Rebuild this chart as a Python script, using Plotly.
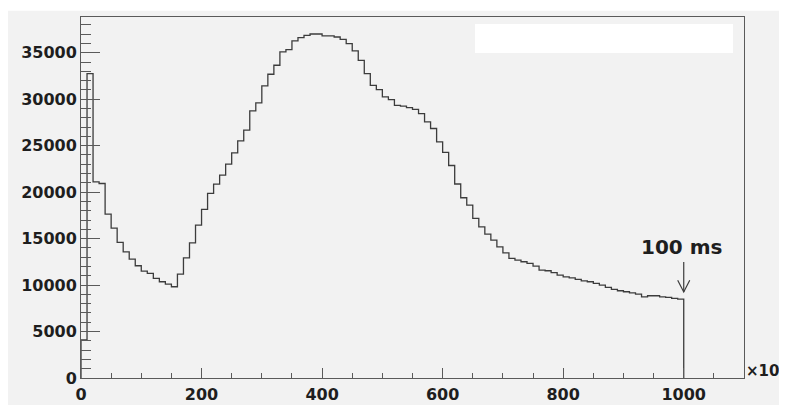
import plotly.graph_objects as go

# ---- data (x in units of 10^3, bin width 10) ----
bin_low = 0
bin_width = 10
counts = [
    4090, 32760, 21110, 20930, 17630, 16130, 14600, 13580, 12800, 12080,
    11500, 11260, 10720, 10360, 10110, 9820, 11180, 12930, 14550, 16450,
    18140, 19860, 20860, 21830, 23010, 24230, 25520, 26670, 28740, 29600,
    31430, 32690, 33660, 35090, 35340, 36270, 36630, 36880, 37020, 37020,
    36810, 36810, 36700, 36450, 35990, 35200, 34190, 32760, 31500, 31040,
    30250, 29960, 29350, 29250, 29100, 28900, 28450, 27560, 26850, 25410,
    24290, 22870, 20880, 19400, 18600, 17170, 16270, 15480, 14840, 14120,
    13470, 12870, 12690, 12510, 12330, 12040, 11610, 11540, 11330, 11080,
    10890, 10780, 10610, 10460, 10360, 10180, 10000, 9750, 9530, 9390,
    9280, 9170, 9030, 8740, 8850, 8850, 8740, 8670, 8570, 8490,
]
x_ticks = [0, 200, 400, 600, 800, 1000]
y_ticks = [0, 5000, 10000, 15000, 20000, 25000, 30000, 35000]
marker_label = "100 ms"
marker_x = 1000
marker_tip = 9260
marker_tail = 12490

edges = [bin_low + i * bin_width for i in range(len(counts) + 1)]
xs = [edges[0]] + edges
ys = [0] + counts + [0]

BG = "#f2f2f2"
AX = "#5a5a5a"
OFF = 8                      # page body margin in the browser
W, H = 779, 397
L, R, T, B = 73, 43, 9, 27
PW, PH = W - L - R, H - T - B

def px2paper_x(wx):          # window pixel -> paper
    return (wx - OFF - L) / PW

def px2paper_y(wy):
    return (H - B - (wy - OFF)) / PH

fig = go.Figure()
fig.add_trace(go.Scatter(
    x=xs, y=ys, mode="lines", line=dict(shape="hv", color="#3c3c3c", width=1.3),
    hoverinfo="skip", showlegend=False,
))

shapes = [
    # thin white strip at top
    dict(type="rect", xref="paper", yref="paper", x0=px2paper_x(0), x1=px2paper_x(800),
         y0=px2paper_y(10.7), y1=px2paper_y(OFF), fillcolor="white", line=dict(width=0), layer="below"),
    # white blotted-out legend
    dict(type="rect", xref="paper", yref="paper", x0=px2paper_x(475), x1=px2paper_x(733),
         y0=px2paper_y(53), y1=px2paper_y(24), fillcolor="white", line=dict(width=0), layer="above"),
    # arrow for marker
    dict(type="line", xref="x", yref="y", x0=marker_x, x1=marker_x, y0=marker_tail, y1=marker_tip,
         line=dict(color="#3c3c3c", width=1.2)),
    dict(type="path", xref="x", yref="y",
         path=f"M {marker_x-10},{marker_tip+1250} L {marker_x},{marker_tip} L {marker_x+10},{marker_tip+1250}",
         line=dict(color="#3c3c3c", width=1.2)),
]

annotations = [
    dict(x=marker_x - 3, y=14100, xref="x", yref="y", text=marker_label, showarrow=False,
         font=dict(family="DejaVu Sans", size=20, color="#1e1e1e", weight="bold"),
         xanchor="center", yanchor="middle"),
    dict(x=px2paper_x(744), y=px2paper_y(371), xref="paper", yref="paper",
         text="×10³", showarrow=False, xanchor="left", yanchor="middle",
         font=dict(family="DejaVu Sans", size=15, color="#1e1e1e", weight="bold")),
]

fig.update_layout(
    width=W, height=H,
    margin=dict(l=L, r=R, t=T, b=B, pad=0, autoexpand=False),
    paper_bgcolor=BG, plot_bgcolor=BG,
    shapes=shapes, annotations=annotations,
    xaxis=dict(
        range=[0, 1100], tickvals=x_ticks, ticktext=[str(v) for v in x_ticks],
        ticks="inside", ticklen=10, tickcolor=AX, tickwidth=1,
        minor=dict(ticks="inside", dtick=50, tick0=0, ticklen=5, tickcolor=AX, tickwidth=1),
        showline=True, linecolor=AX, linewidth=1, mirror=True,
        showgrid=False, zeroline=False, automargin=False, ticklabelstandoff=2,
        tickfont=dict(family="DejaVu Sans", size=16, color="#1e1e1e", weight="bold"),
    ),
    yaxis=dict(
        range=[0, 38850], tickvals=y_ticks, ticktext=[str(v) for v in y_ticks],
        ticks="inside", ticklen=19, tickcolor=AX, tickwidth=1,
        minor=dict(ticks="inside", dtick=1000, tick0=0, ticklen=10, tickcolor=AX, tickwidth=1),
        showline=True, linecolor=AX, linewidth=1, mirror=True,
        showgrid=False, zeroline=False, automargin=False,
        tickfont=dict(family="DejaVu Sans", size=16, color="#1e1e1e", weight="bold"),
    ),
)

fig.write_html("out.html")
